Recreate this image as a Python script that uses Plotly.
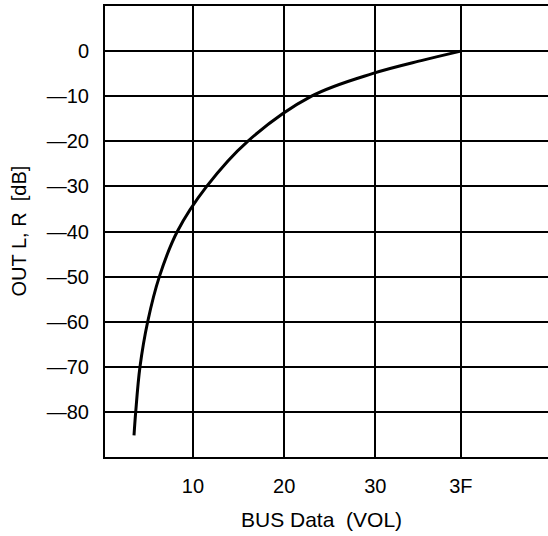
import plotly.graph_objects as go

# BUS data (VOL) values in decimal (hex 10 = 16, 20 = 32, 30 = 48, 3F = 63)
bus_data = [5.65, 5.95, 6.7, 8.05, 10.1, 13.25, 18.4, 25.6, 36.8, 47.6, 56.4, 63.0]
out_db = [-85.2, -80, -70, -60, -50, -40, -30, -20, -10, -4.95, -2.0, 0]

x_tick_vals = [16, 32, 48, 63]
x_tick_text = ["10", "20", "30", "3F"]
y_tick_vals = [0, -10, -20, -30, -40, -50, -60, -70, -80]
y_tick_text = ["0", "—10", "—20", "—30", "—40", "—50", "—60", "—70", "—80"]

FONT = "Liberation Sans, Arial, sans-serif"

fig = go.Figure()
fig.add_trace(go.Scatter(
    x=bus_data, y=out_db, mode="lines",
    line=dict(color="black", width=3, shape="spline", smoothing=1.0),
    showlegend=False, hoverinfo="skip",
))

fig.update_layout(
    width=548, height=536,
    margin=dict(l=105, r=0, t=6, b=79),
    paper_bgcolor="white", plot_bgcolor="white",
    font=dict(family=FONT, size=20, color="black"),
    xaxis=dict(
        range=[0.56, 78.3],
        tickvals=x_tick_vals, ticktext=x_tick_text,
        showgrid=True, gridcolor="black", gridwidth=2,
        showline=True, linecolor="black", linewidth=2, mirror=True,
        zeroline=False, ticks="", ticklabelstandoff=10,
        tickfont=dict(family=FONT, size=20, color="black"),
    ),
    yaxis=dict(
        range=[-90, 10],
        tickvals=y_tick_vals, ticktext=y_tick_text,
        showgrid=True, gridcolor="black", gridwidth=2,
        showline=True, linecolor="black", linewidth=2,
        zeroline=False, ticks="", ticklabelstandoff=10,
        tickfont=dict(family=FONT, size=20, color="black"),
    ),
    annotations=[
        dict(text="BUS Data\u00a0\u00a0(VOL)", xref="paper", yref="paper",
             x=(321 - 105) / 443, y=0, xanchor="center", yanchor="middle",
             yshift=-62, showarrow=False,
             font=dict(family=FONT, size=21, color="black")),
        dict(text="OUT L, R\u00a0\u00a0[dB]", xref="paper", yref="paper",
             x=0, y=0.5, xanchor="center", yanchor="middle", textangle=-90,
             xshift=-87, showarrow=False,
             font=dict(family=FONT, size=20, color="black")),
    ],
)

fig.write_html(
    "out.html",
    config={"displayModeBar": False},
    post_script="document.body.style.margin='0';document.body.style.overflow='hidden';",
)
